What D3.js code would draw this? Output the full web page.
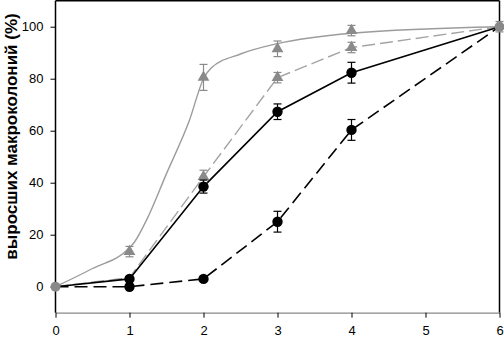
<!DOCTYPE html>
<html>
<head>
<meta charset="utf-8">
<script src="https://cdn.jsdelivr.net/npm/d3@7"></script>
<style>
  body { margin: 0; background: #fff; }
  svg { display: block; font-family: "Liberation Sans", Arial, sans-serif; }
</style>
</head>
<body>
<svg id="chart" width="504" height="337"></svg>
<script>
// days (x) and percent of grown macrocolonies (y)
const days = [0, 1, 2, 3, 4, 6]
const xTicks = [0, 1, 2, 3, 4, 5, 6]
const yTicks = [0, 20, 40, 60, 80, 100]

const graySolid = [0, 13.5, 80.5, 91.5, 98.5, 100]
const graySolidErr = [0, 2, 5, 3, 2, 2]
// fitted curve drawn for the gray solid series
const fitX = [0, 0.5, 1, 1.07, 1.23, 1.5, 1.81, 2, 2.1, 2.5, 3, 4, 6]
const fitY = [0, 7, 15, 17.3, 25.6, 43.5, 64, 80, 84, 89.5, 93.5, 97.5, 100]

const grayDashed = [0, 3.5, 42.3, 80.4, 92, 100]
const grayDashedErr = [0, 0, 2.5, 2, 2, 2]

const blackSolid = [0, 3, 38.5, 67.3, 82.3, 100]
const blackSolidErr = [0, 0, 2.5, 3, 4, 2]

const blackDashed = [0, 0, 3, 25, 60.3, 100]
const blackDashedErr = [0, 0, 0, 4, 4, 2]

const yLabel = "выросших макроколоний (%)"

function drawChart(){
  const svg = d3.select("#chart")

  const x = d3.scaleLinear().domain([0, 6]).range([55.5, 499.5])
  const y = d3.scaleLinear().domain([-10, 110]).range([312.7, 0.7])

  // frame: top and right black
  svg.append("line").attr("x1", x(0)).attr("x2", x(6)).attr("y1", 0.7).attr("y2", 0.7)
    .attr("stroke", "#000").attr("stroke-width", 1.5)
  svg.append("line").attr("x1", x(6)).attr("x2", x(6)).attr("y1", 0.7).attr("y2", y(-10))
    .attr("stroke", "#000").attr("stroke-width", 1.5)

  const xAxis = svg.append("g")
    .attr("transform", `translate(0,${y(-10)})`)
    .call(d3.axisBottom(x).tickValues(xTicks).tickFormat(d3.format("d")).tickSize(5).tickSizeOuter(0))
  xAxis.select(".domain").attr("stroke", "#888").attr("stroke-width", 1.2)
  xAxis.selectAll(".tick line").attr("stroke", "#000")
  xAxis.selectAll(".tick text").attr("font-size", 13).attr("fill", "#000")
    .attr("font-family", "Liberation Sans, Arial, sans-serif")
    .attr("y", 22.5).attr("dy", null)

  const yAxis = svg.append("g")
    .attr("transform", `translate(${x(0)},0)`)
    .call(d3.axisLeft(y).tickValues(yTicks).tickSize(5).tickPadding(7).tickSizeOuter(0))
  yAxis.select(".domain").attr("stroke", "#000").attr("stroke-width", 1.5)
    .attr("d", `M0,0.7V${y(-10)}`)
  yAxis.selectAll(".tick text").attr("font-size", 13).attr("fill", "#000")
    .attr("font-family", "Liberation Sans, Arial, sans-serif")

  svg.append("text")
    .attr("transform", `translate(17,${(270 + 3) / 2}) rotate(-90)`)
    .attr("text-anchor", "middle")
    .attr("font-weight", "bold")
    .attr("font-size", 17)
    .text(yLabel)

  const line = d3.line().x((d, i) => x(days[i])).y(d => y(d))
  const fitLine = d3.line().curve(d3.curveMonotoneX).x((d, i) => x(fitX[i])).y(d => y(d))

  const series = [
    {values: graySolid, err: graySolidErr, color: "#8a8a8a", lineColor: "#9c9c9c", dash: null, mark: "tri", fit: true, marks: [1, 2, 3, 4]},
    {values: grayDashed, err: grayDashedErr, color: "#8a8a8a", lineColor: "#a4a4a4", dash: "13,5", mark: "tri", marks: [2, 3, 4]},
    {values: blackSolid, err: blackSolidErr, color: "#000", lineColor: "#000", dash: null, mark: "circle", marks: [1, 2, 3, 4]},
    {values: blackDashed, err: blackDashedErr, color: "#000", lineColor: "#000", dash: "13,6", mark: "circle", marks: [1, 2, 3, 4]}
  ]

  series.forEach(s => {
    svg.append("path")
      .datum(s.fit ? fitY : s.values)
      .attr("fill", "none")
      .attr("stroke", s.lineColor)
      .attr("stroke-width", s.color === "#000" ? 1.6 : 1.4)
      .attr("stroke-dasharray", s.dash)
      .attr("d", s.fit ? fitLine : line)
  })

  series.forEach(s => {
    const g = svg.append("g").attr("stroke", s.color).attr("fill", s.color)
    s.marks.forEach(i => {
      const v = s.values[i], e = s.err[i], cx = x(days[i])
      if (e > 0) {
        g.append("line").attr("x1", cx).attr("x2", cx).attr("y1", y(v - e)).attr("y2", y(v + e)).attr("stroke-width", 1.2)
        ;[v - e, v + e].forEach(w => g.append("line")
          .attr("x1", cx - 4).attr("x2", cx + 4).attr("y1", y(w)).attr("y2", y(w)).attr("stroke-width", 1.2))
      }
      if (s.mark === "circle") {
        g.append("circle").attr("cx", cx).attr("cy", y(v)).attr("r", 5.2).attr("stroke", "none")
      } else {
        g.append("path").attr("transform", `translate(${cx},${y(v)})`)
          .attr("d", d3.symbol(d3.symbolTriangle, 60)()).attr("stroke", "none")
      }
    })
  })

  // shared end points in gray
  const ends = svg.append("g").attr("stroke", "#888").attr("fill", "#888")
  ;[0, 5].forEach(i => {
    const v = graySolid[i], e = graySolidErr[i], cx = x(days[i])
    if (i === 5) {
      ends.append("line").attr("x1", cx).attr("x2", cx).attr("y1", y(v - e)).attr("y2", y(v + e)).attr("stroke-width", 1.2)
      ;[v - e, v + e].forEach(w => ends.append("line")
        .attr("x1", cx - 4).attr("x2", cx + 4).attr("y1", y(w)).attr("y2", y(w)).attr("stroke-width", 1.2))
    }
    ends.append("circle").attr("cx", cx).attr("cy", y(v)).attr("r", 5).attr("stroke", "none")
  })
}

drawChart()
</script>
</body>
</html>
